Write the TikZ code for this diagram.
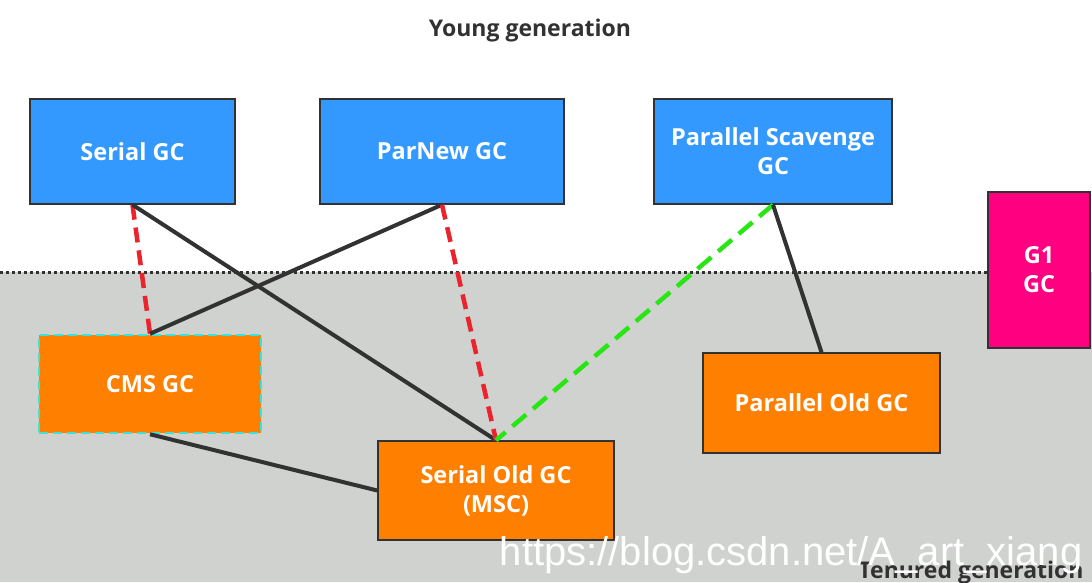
\documentclass[tikz,border=0pt]{standalone}
\usepackage{fontspec}
\setmainfont{Open Sans}
\newfontfamily\wmfont{Liberation Sans}
\definecolor{gcblue}{RGB}{51,153,255}
\definecolor{gcorange}{RGB}{255,128,0}
\definecolor{gcpink}{RGB}{255,0,128}
\definecolor{tenuregray}{RGB}{208,210,207}
\definecolor{edgedark}{RGB}{50,50,50}
\definecolor{dashred}{RGB}{235,35,45}
\definecolor{dashgreen}{RGB}{40,230,20}
\definecolor{dashcyan}{RGB}{60,225,215}
\begin{document}
\begin{tikzpicture}[x=1pt,y=-1pt,
  gcbox/.style={draw=edgedark,line width=1.5pt,inner sep=0pt,align=center,
    text=white,font=\bfseries\fontsize{23.5}{29}\selectfont},
  young/.style={gcbox,fill=gcblue},
  old/.style={gcbox,fill=gcorange},
  blackline/.style={draw=edgedark,line width=4pt},
  redline/.style={draw=dashred,line width=4.5pt,dash pattern=on 15pt off 8pt},
  greenline/.style={draw=dashgreen,line width=4.5pt,dash pattern=on 18pt off 9pt},
  title/.style={text=edgedark,font=\bfseries\fontsize{23}{27}\selectfont}]
\useasboundingbox (0,0) rectangle (1092,582);
\fill[white] (0,0) rectangle (1092,272);
\fill[tenuregray] (0,272) rectangle (1092,582);
\draw[edgedark,line width=3pt,dash pattern=on 3pt off 3pt] (0,272) -- (988,272);

\node[title] (yg) at (530,31) {Young generation};

\node[young,minimum width=205pt,minimum height=105pt] (serial) at (132.5,151.5) {Serial GC};
\node[young,minimum width=244pt,minimum height=105pt] (parnew) at (442,151.5) {ParNew GC};
\node[young,minimum width=238pt,minimum height=105pt] (ps) at (773,151.5) {Parallel Scavenge\\GC};
\node[gcbox,fill=gcpink,minimum width=102pt,minimum height=156pt] (g1) at (1039,270) {G1\\GC};
\node[old,draw=dashcyan,line width=2.5pt,dash pattern=on 9pt off 5pt,minimum width=222pt,minimum height=98pt] (cms) at (150,384) {CMS GC};
\node[old,minimum width=236pt,minimum height=99pt] (sold) at (496,490.5) {Serial Old GC\\(MSC)};
\node[old,minimum width=237pt,minimum height=100pt] (pold) at (821.5,403) {Parallel Old GC};

\draw[redline] (serial.south) -- (cms.north);
\draw[blackline] (serial.south) -- (sold.north);
\draw[blackline] (parnew.south) -- (cms.north);
\draw[redline] (parnew.south) -- (sold.north);
\draw[greenline] (ps.south) -- (sold.north);
\draw[blackline] (ps.south) -- (pold.north);
\draw[blackline] (cms.south) -- (sold.west);

\begin{scope}
\clip (0,0) rectangle (1092,582);
\node[title,anchor=base] (tg) at (971,578) {Tenured generation};
\node[text=white,font=\wmfont\fontsize{40}{44}\selectfont,anchor=base east] (wm) at (1086,565) {https://blog.csdn.net/A\_art\_xiang};
\end{scope}
\end{tikzpicture}
\end{document}
